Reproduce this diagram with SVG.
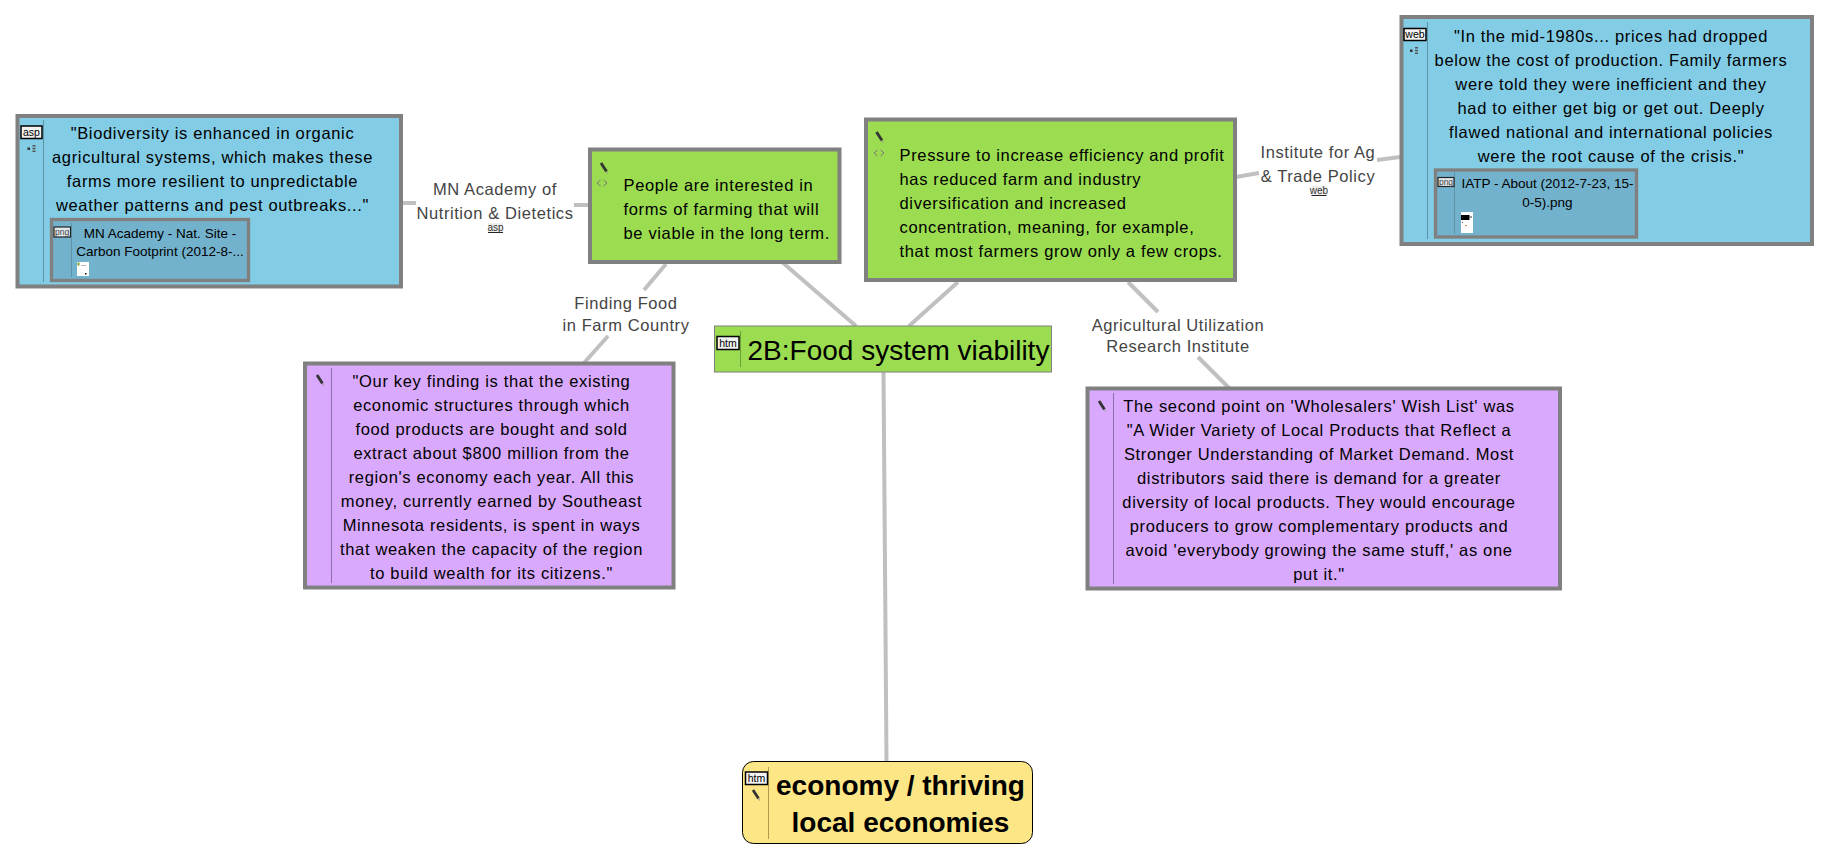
<svg xmlns="http://www.w3.org/2000/svg" width="1830" height="860" viewBox="0 0 1830 860">
<style>
text{font-family:"Liberation Sans",Arial,sans-serif;fill:#000}
.b{font-size:16.5px;letter-spacing:.66px;text-anchor:middle}
.l{font-size:16.5px;letter-spacing:.65px}
.s{font-size:13.5px;text-anchor:middle}
.lab{font-size:16.5px;letter-spacing:.58px;text-anchor:middle;fill:#444}
.box{stroke:#808080;stroke-width:4}
.blue{fill:#82cce6}.in{fill:#72b2cc;stroke:#808080;stroke-width:3.3}
.green{fill:#9bdc50}.pur{fill:#d9a9fd}
.div{stroke:#5f93a8;stroke-width:1;fill:none}
.ic{fill:#f2f2f2;stroke:#000;stroke-width:1.5}
.icg{fill:#dfe8ec;stroke:#222;stroke-width:1.2}
.it{font-size:10.5px;text-anchor:middle}
.ig{font-size:8.5px;text-anchor:middle;fill:#444}
.sm{font-size:10px;text-anchor:middle;fill:#333}
.con{stroke:#c0c0c0;stroke-width:4;fill:none}
</style>
<defs>
<g id="pen"><path d="M0 0L5.500 8.500" stroke="#333" stroke-width="2.800" fill="none"/><path d="M5.500 8.500L6.800 10.500" stroke="#999" stroke-width="1.200"/></g>
<g id="tree"><rect x="0" y="2.500" width="2.500" height="2.500" fill="#333"/><path d="M5 0.800h3M5 3.500h3M5 6.200h3" stroke="#555" stroke-width="1.500"/></g>
<path id="dia" d="M3.500 0L0 3L3.500 6M6.500 0L10 3L6.500 6" stroke="#777" stroke-width="1" fill="none"/>
</defs>
<g id="connectors">
<path class="con" d="M402 203H416"/>
<path class="con" d="M574 205H589"/>
<path class="con" d="M782 262L856 326"/>
<path class="con" d="M958 282L909 326"/>
<path class="con" d="M666 264L644 290"/>
<path class="con" d="M608 336L584 363"/>
<path class="con" d="M1128 282L1158 312"/>
<path class="con" d="M1198 357L1229 388"/>
<path class="con" d="M1236 177L1259 173"/>
<path class="con" d="M1377 160L1400 157"/>
<path class="con" d="M883.500 372L886.500 761"/>
</g>
<g id="edge-labels">
<text class="lab" x="495" y="195">MN Academy of</text>
<text class="lab" x="495" y="219">Nutrition &amp; Dietetics</text>
<rect x="488" y="223" width="15" height="9.500" fill="#eee"/><path d="M488 232.500H503" stroke="#222"/>
<text class="sm" x="495.500" y="231">asp</text>
<text class="lab" x="626" y="309">Finding Food</text>
<text class="lab" x="626" y="331">in Farm Country</text>
<text class="lab" x="1178" y="331">Agricultural Utilization</text>
<text class="lab" x="1178" y="352">Research Institute</text>
<text class="lab" x="1318" y="158">Institute for Ag</text>
<text class="lab" x="1318" y="182">&amp; Trade Policy</text>
<rect x="1311.500" y="186" width="15" height="9.500" fill="#eee"/><path d="M1311.500 195.500H1326.500" stroke="#222"/>
<text class="sm" x="1319" y="194">web</text>
</g>
<g id="node-biodiversity">
<rect class="box blue" x="17.500" y="116" width="383.500" height="170.500"/>
<path class="div" d="M43.500 120V282"/>
<rect class="ic" x="21" y="126" width="21" height="12.500"/><text class="it" x="31.500" y="135.500">asp</text>
<use href="#tree" x="27.500" y="145"/>
<text class="b" x="212.500" y="139">"Biodiversity is enhanced in organic</text>
<text class="b" x="212.500" y="163">agricultural systems, which makes these</text>
<text class="b" x="212.500" y="187">farms more resilient to unpredictable</text>
<text class="b" x="212.500" y="211">weather patterns and pest outbreaks..."</text>
<rect class="in" x="51.500" y="219.500" width="197" height="61"/>
<path class="div" d="M71.500 223V277"/>
<rect class="icg" x="54" y="227" width="16.500" height="10"/><text class="ig" x="62.200" y="235">png</text>
<text class="s" x="160" y="238">MN Academy - Nat. Site -</text>
<text class="s" x="160" y="256">Carbon Footprint (2012-8-...</text>
<rect x="77" y="262" width="12" height="14" fill="#fff"/><rect x="77.500" y="262.500" width="2" height="3" fill="#7a9a20"/><rect x="85" y="273" width="1.500" height="1.500" fill="#000"/><rect x="81" y="265" width="5" height="1" fill="#bbb"/>
</g>
<g id="node-viable">
<rect class="box green" x="590" y="149.500" width="249.500" height="112.500"/>
<use href="#pen" x="601" y="163"/>
<use href="#dia" x="597" y="180"/>
<text class="l" x="623.500" y="191">People are interested in</text>
<text class="l" x="623.500" y="215">forms of farming that will</text>
<text class="l" x="623.500" y="239">be viable in the long term.</text>
</g>
<g id="node-pressure">
<rect class="box green" x="866" y="119.500" width="369" height="160.500"/>
<use href="#pen" x="876.500" y="132"/>
<use href="#dia" x="874" y="150"/>
<text class="l" x="899.500" y="161">Pressure to increase efficiency and profit</text>
<text class="l" x="899.500" y="185">has reduced farm and industry</text>
<text class="l" x="899.500" y="209">diversification and increased</text>
<text class="l" x="899.500" y="233">concentration, meaning, for example,</text>
<text class="l" x="899.500" y="257">that most farmers grow only a few crops.</text>
</g>
<g id="node-iatp">
<rect class="box blue" x="1401.500" y="17" width="410.500" height="227"/>
<path class="div" d="M1427.500 22V239"/>
<rect class="ic" x="1404" y="28.500" width="22" height="12"/><text class="it" x="1415" y="38">web</text>
<use href="#tree" x="1410" y="47"/>
<text class="b" x="1611" y="42">"In the mid-1980s... prices had dropped</text>
<text class="b" x="1611" y="66">below the cost of production. Family farmers</text>
<text class="b" x="1611" y="90">were told they were inefficient and they</text>
<text class="b" x="1611" y="114">had to either get big or get out. Deeply</text>
<text class="b" x="1611" y="138">flawed national and international policies</text>
<text class="b" x="1611" y="162">were the root cause of the crisis."</text>
<rect class="in" x="1435.500" y="170" width="201" height="67"/>
<path class="div" d="M1454.500 172V234"/>
<rect class="icg" x="1438" y="177.500" width="16" height="9"/><text class="ig" x="1446" y="185">png</text>
<text class="s" x="1547.500" y="188">IATP - About (2012-7-23, 15-</text>
<text class="s" x="1547.500" y="207">0-5).png</text>
<rect x="1461" y="212" width="12" height="21" fill="#fff"/><rect x="1461" y="215" width="8.500" height="5" fill="#000"/><rect x="1470" y="216" width="2" height="2" fill="#999"/><rect x="1462" y="222" width="1" height="1" fill="#555"/><rect x="1465" y="225" width="2" height="1" fill="#c93"/>
</g>
<g id="node-finding">
<rect class="box pur" x="305" y="363.500" width="368.500" height="224"/>
<path class="div" style="stroke:#8e6fa8" d="M331.500 368V583"/>
<use href="#pen" x="317" y="375"/>
<text class="b" x="491.500" y="387">"Our key finding is that the existing</text>
<text class="b" x="491.500" y="411">economic structures through which</text>
<text class="b" x="491.500" y="435">food products are bought and sold</text>
<text class="b" x="491.500" y="459">extract about $800 million from the</text>
<text class="b" x="491.500" y="483">region's economy each year. All this</text>
<text class="b" x="491.500" y="507">money, currently earned by Southeast</text>
<text class="b" x="491.500" y="531">Minnesota residents, is spent in ways</text>
<text class="b" x="491.500" y="555">that weaken the capacity of the region</text>
<text class="b" x="491.500" y="579">to build wealth for its citizens."</text>
</g>
<g id="node-wholesalers">
<rect class="box pur" x="1087.500" y="388.500" width="472.500" height="200"/>
<path class="div" style="stroke:#8e6fa8" d="M1113.500 393V584"/>
<use href="#pen" x="1099" y="401"/>
<text class="b" x="1319" y="412">The second point on 'Wholesalers' Wish List' was</text>
<text class="b" x="1319" y="436">"A Wider Variety of Local Products that Reflect a</text>
<text class="b" x="1319" y="460">Stronger Understanding of Market Demand. Most</text>
<text class="b" x="1319" y="484">distributors said there is demand for a greater</text>
<text class="b" x="1319" y="508">diversity of local products. They would encourage</text>
<text class="b" x="1319" y="532">producers to grow complementary products and</text>
<text class="b" x="1319" y="556">avoid 'everybody growing the same stuff,' as one</text>
<text class="b" x="1319" y="580">put it."</text>
</g>
<g id="node-center">
<rect class="green" x="714.500" y="326" width="337" height="46" stroke="#808080" stroke-width="1"/>
<path stroke="#6f9f3c" d="M740.500 331V367"/>
<rect class="ic" x="717" y="336.500" width="22" height="13"/><text class="it" x="728" y="346.500">htm</text>
<text x="747.500" y="360" font-size="28">2B:Food system viability</text>
</g>
<g id="node-economy">
<rect x="742.500" y="761.500" width="290" height="82" rx="11" fill="#fde686" stroke="#000" stroke-width="1"/>
<path stroke="#b09a50" d="M768.500 767V839"/>
<rect class="ic" x="745.500" y="772" width="22" height="12.500"/><text class="it" x="756.500" y="782">htm</text>
<use href="#pen" x="753" y="790"/>
<text x="900.500" y="795" font-size="28" font-weight="bold" text-anchor="middle">economy / thriving</text>
<text x="900.500" y="832" font-size="28" font-weight="bold" text-anchor="middle">local economies</text>
</g>
</svg>
